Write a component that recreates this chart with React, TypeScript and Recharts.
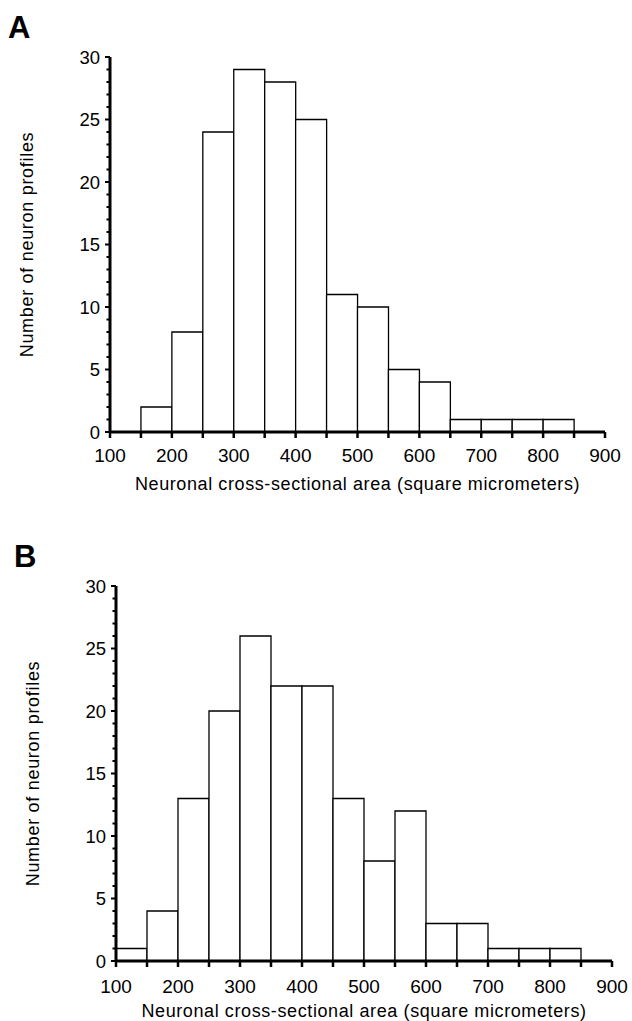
import { BarChart, Bar, XAxis, YAxis } from 'recharts';

const binStarts = [100, 150, 200, 250, 300, 350, 400, 450, 500, 550, 600, 650, 700, 750, 800, 850];
const countsA = [0, 2, 8, 24, 29, 28, 25, 11, 10, 5, 4, 1, 1, 1, 1, 0];
const countsB = [1, 4, 13, 20, 26, 22, 22, 13, 8, 12, 3, 3, 1, 1, 1, 0];
const xTicks = [100, 150, 200, 250, 300, 350, 400, 450, 500, 550, 600, 650, 700, 750, 800, 850, 900];
const yTicks = Array.from({ length: 31 }, (_, i) => i);
const xTitle = 'Neuronal cross-sectional area (square micrometers)';
const yTitle = 'Number of neuron profiles';

const FONT = '"Liberation Sans", Arial, Helvetica, sans-serif';

function XTick(props: any) {
  const { x, y, payload, labelDy } = props;
  const v = payload.value;
  return (
    <g>
      <line x1={x} x2={x} y1={y} y2={y + 6} stroke="#000" strokeWidth={2.5} />
      {v % 100 === 0 && (
        <text x={x} y={y + labelDy} textAnchor="middle" fontSize={19} fill="#000">
          {v}
        </text>
      )}
    </g>
  );
}

function YTick(props: any) {
  const { x, y, payload } = props;
  const v = payload.value;
  const major = v % 5 === 0;
  return (
    <g>
      <line x1={x} x2={x - (major ? 5 : 3.5)} y1={y} y2={y} stroke="#000" strokeWidth={2} />
      {major && (
        <text x={x - 10} y={y + 6.5} textAnchor="end" fontSize={18.5} fill="#000">
          {v}
        </text>
      )}
    </g>
  );
}

function XTitle(props: any) {
  const { viewBox, dy } = props;
  return (
    <text
      x={viewBox.x + viewBox.width / 2}
      y={viewBox.y + dy}
      textAnchor="middle"
      fontSize={18}
      letterSpacing={0.6}
      fill="#000"
    >
      {xTitle}
    </text>
  );
}

function YTitle(props: any) {
  const { viewBox } = props;
  const cy = viewBox.y + viewBox.height / 2;
  const bx = viewBox.x + viewBox.width - 77;
  return (
    <text
      x={bx}
      y={cy}
      transform={`rotate(-90, ${bx}, ${cy})`}
      textAnchor="middle"
      fontSize={18}
      letterSpacing={0.7}
      fill="#000"
    >
      {yTitle}
    </text>
  );
}

type PanelProps = {
  counts: number[];
  top: number;
  height: number;
  yAxisWidth: number;
  margin: { top: number; right: number; bottom: number; left: number };
  xAxisHeight: number;
  tickDy: number;
  titleDy: number;
};

function Panel({ counts, top, height, yAxisWidth, margin, xAxisHeight, tickDy, titleDy }: PanelProps) {
  const data = binStarts.map((s, i) => ({ bin: `${s}`, start: s, count: counts[i] }));
  return (
    <div style={{ position: 'absolute', left: 0, top }}>
      <BarChart width={632} height={height} data={data} margin={margin} barCategoryGap={0} barGap={0}>
        <XAxis xAxisId="bin" dataKey="bin" hide height={0} />
        <XAxis
          xAxisId="num"
          type="number"
          dataKey="start"
          domain={[100, 900]}
          ticks={xTicks}
          interval={0}
          allowDataOverflow
          height={xAxisHeight}
          tickSize={0}
          tickMargin={0}
          tickLine={false}
          axisLine={{ stroke: '#000', strokeWidth: 3 }}
          tick={<XTick labelDy={tickDy} />}
          label={<XTitle dy={titleDy} />}
        />
        <YAxis
          domain={[0, 30]}
          ticks={yTicks}
          interval={0}
          width={yAxisWidth}
          tickSize={0}
          tickMargin={0}
          tickLine={false}
          axisLine={{ stroke: '#000', strokeWidth: 3 }}
          tick={<YTick />}
          label={<YTitle />}
        />
        <Bar
          xAxisId="bin"
          dataKey="count"
          fill="#fff"
          stroke="#000"
          strokeWidth={1.3}
          isAnimationActive={false}
        />
      </BarChart>
    </div>
  );
}

export default function App() {
  return (
    <div
      style={{
        position: 'absolute',
        left: 0,
        top: 0,
        width: 632,
        height: 1021,
        background: '#fff',
        fontFamily: FONT,
      }}
    >
      <Panel
        counts={countsA}
        top={0}
        height={502}
        yAxisWidth={110}
        margin={{ top: 57, right: 27, bottom: 0, left: 0 }}
        xAxisHeight={70}
        tickDy={30}
        titleDy={58}
      />
      <Panel
        counts={countsB}
        top={530}
        height={491}
        yAxisWidth={116}
        margin={{ top: 56, right: 20, bottom: 0, left: 0 }}
        xAxisHeight={60}
        tickDy={32}
        titleDy={56}
      />
      <svg width={632} height={1021} style={{ position: 'absolute', left: 0, top: 0, pointerEvents: 'none' }}>
        <text x={8} y={38} fontSize={31} fontWeight="bold" fontFamily={FONT} fill="#000">A</text>
        <text x={14} y={567} fontSize={31} fontWeight="bold" fontFamily={FONT} fill="#000">B</text>
      </svg>
    </div>
  );
}
